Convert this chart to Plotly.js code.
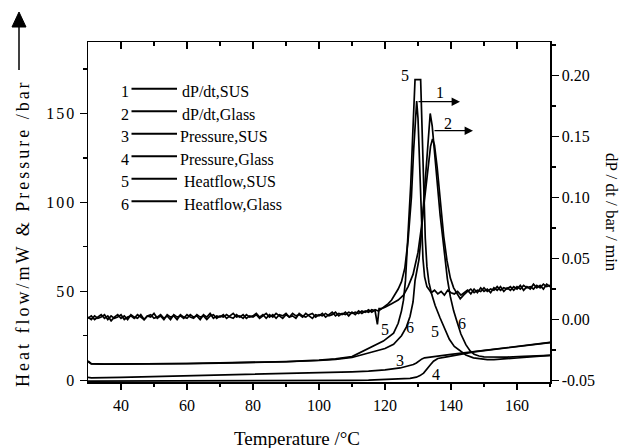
<!DOCTYPE html>
<html>
<head>
<meta charset="utf-8">
<script src="https://cdn.plot.ly/plotly-3.0.1.min.js"></script>
<style>
  html, body { margin: 0; padding: 0; background: #fff; }
  #chart { width: 623px; height: 448px; }
  .ytick text { letter-spacing: 2px; }
  g.annotation[data-index="0"] text { letter-spacing: 3px; }
</style>
</head>
<body>
<div id="chart"></div>
<script>
// ---------------- DATA ----------------
// Series 1: dP/dt, SUS (right axis, bar/min)
const tDpdtSus = [
  30,31,32,33,34,35,36,37,38,39,
  40,41,42,43,44,45,46,47,48,49,
  50,51,52,53,54,55,56,57,58,59,
  60,61,62,63,64,65,66,67,68,69,
  70,71,72,73,74,75,76,77,78,79,
  80,81,82,83,84,85,86,87,88,89,
  90,91,92,93,94,95,96,97,98,99,
  100,101,102,103,104,105,106,107,108,109,
  110,111,112,113,114,115,116,117,
  117.7,118.2,119,120,121,122,123,124,125,126,127,128,128.7,129.3,129.6,130,130.5,131,131.5,132,132.7,133.5,134,
  135,136,137,138,139,140,141,142,143,144,
  145,146,147,148,149,150,151,152,153,154,
  155,156,157,158,159,160,161,162,163,164,
  165,166,167,168,169,170,171
];
const dpdtSus = [
  0.001,0.003,0.000,0.002,0.004,0.001,0.003,-0.001,0.002,0.004,
  0.001,0.003,0.000,0.004,0.002,0.001,0.004,0.000,0.003,0.002,
  0.005,0.001,0.003,0.000,0.004,0.002,0.003,0.000,0.004,0.002,
  0.001,0.004,0.002,0.003,0.000,0.004,0.002,0.005,0.001,0.003,
  0.002,0.004,0.001,0.003,0.005,0.002,0.003,0.001,0.004,0.002,
  0.003,0.005,0.002,0.004,0.001,0.004,0.002,0.005,0.003,0.001,
  0.004,0.002,0.005,0.003,0.004,0.002,0.005,0.003,0.001,0.004,
  0.003,0.005,0.002,0.004,0.006,0.003,0.005,0.004,0.006,0.003,
  0.006,0.004,0.007,0.005,0.007,0.006,0.008,0.007,
  -0.004,0.009,0.009,0.011,0.013,0.016,0.020,0.025,0.031,0.042,0.065,0.100,0.140,0.172,0.179,0.165,0.125,0.080,0.050,0.035,0.027,0.024,0.022,
  0.024,0.021,0.023,0.020,0.024,0.022,0.021,0.023,0.020,0.022,
  0.024,0.021,0.025,0.022,0.026,0.023,0.025,0.022,0.026,0.024,
  0.027,0.023,0.026,0.024,0.027,0.025,0.028,0.024,0.027,0.025,
  0.029,0.026,0.028,0.025,0.029,0.027,0.028
];

// Series 2: dP/dt, Glass (right axis, bar/min)
const tDpdtGlass = [
  30,31,32,33,34,35,36,37,38,39,
  40,41,42,43,44,45,46,47,48,49,
  50,51,52,53,54,55,56,57,58,59,
  60,61,62,63,64,65,66,67,68,69,
  70,71,72,73,74,75,76,77,78,79,
  80,81,82,83,84,85,86,87,88,89,
  90,91,92,93,94,95,96,97,98,99,
  100,101,102,103,104,105,106,107,108,109,
  110,111,112,113,114,115,116,117,118,119,
  120,122,124,125.6,127,128.5,130,131,132,133,133.8,134.4,135,135.8,136.8,137.8,138.8,139.8,140.8,141.8,142.8,143.8,144.5,
  145,146,147,148,149,150,151,152,153,154,
  155,156,157,158,159,160,161,162,163,164,
  165,166,167,168,169,170,171
];
const dpdtGlass = [
  0.002,0.000,0.003,0.001,0.002,0.004,0.000,0.003,0.001,0.002,
  0.004,0.000,0.002,0.003,0.001,0.004,0.002,0.000,0.003,0.004,
  0.001,0.002,0.004,0.001,0.003,0.000,0.004,0.002,0.003,0.001,
  0.004,0.002,0.001,0.004,0.002,0.003,0.000,0.003,0.004,0.001,
  0.003,0.002,0.004,0.002,0.001,0.004,0.002,0.004,0.001,0.003,
  0.002,0.004,0.001,0.003,0.005,0.002,0.004,0.001,0.004,0.003,
  0.005,0.002,0.003,0.001,0.005,0.003,0.002,0.004,0.005,0.002,
  0.004,0.003,0.005,0.003,0.004,0.006,0.003,0.005,0.004,0.006,
  0.005,0.006,0.005,0.007,0.006,0.008,0.006,0.008,0.007,0.009,
  0.010,0.013,0.016,0.020,0.027,0.037,0.055,0.075,0.100,0.125,0.142,0.148,0.143,0.125,0.095,0.068,0.048,0.034,0.026,0.021,0.017,0.020,0.022,
  0.023,0.025,0.022,0.024,0.023,0.026,0.023,0.025,0.024,0.027,
  0.024,0.026,0.025,0.027,0.024,0.027,0.025,0.028,0.026,0.027,
  0.025,0.028,0.026,0.029,0.027,0.028,0.026
];

// Series 3: Pressure, SUS (left axis, bar)
const tPresSus = [30,31,40,50,60,70,80,90,100,110,115,120,124.6,127,128.6,129.5,130.3,131.2,132,133.7,136,140,145,150,155,160,165,171];
const presSus  = [1.6,1.3,1.6,2.0,2.4,2.8,3.2,3.6,4.1,4.7,5.1,5.8,6.9,7.8,8.8,9.7,10.9,12.0,12.6,13.2,13.6,14.5,15.6,16.7,17.9,19.0,20.1,21.5];

// Series 4: Pressure, Glass (left axis, bar)
const tPresGlass = [30,40,60,80,100,110,115,120,124,127.6,129.5,130.6,131.7,132.7,133.7,134.7,136,138.7,140.8,142.8,145,147,150,155,160,165,171];
const presGlass  = [-0.5,-0.5,-0.4,-0.3,-0.2,-0.1,0.0,0.3,0.6,1.0,1.7,2.6,4.0,6.0,8.6,10.7,12.2,13.1,13.9,14.5,15.3,15.9,16.6,17.8,18.9,20.0,21.4];

// Series 5: Heatflow, SUS (left axis, mW)
const tHeatSus = [30,30.5,31,35,40,50,60,70,80,90,100,105,110,112.5,116,119.5,122.6,124,125,125.6,126.2,126.6,127.2,127.8,128.4,128.9,129.1,130.8,131.2,131.7,132.2,132.7,133.3,134.2,135.2,136.7,138,139.5,141,142.8,144.5,146.8,149,151,153,156,160,165,171];
const heatSus  = [10.8,9.8,9.3,9.1,9.1,9.2,9.4,9.7,10.0,10.5,11.3,12.0,13.3,15.5,18.5,22,26.5,32,39,45,56,68,88,110,138,162,169,169,140,108,80,64,55,48,42,35,29,23,19,16.5,14.2,12.6,11.9,11.6,11.6,11.9,12.5,13.3,14.1];

// Series 6: Heatflow, Glass (left axis, mW)
const tHeatGlass = [30,30.5,31,35,40,50,60,70,80,90,100,105,110,112.5,116,120,122.6,125,126.5,127.6,128.5,129.1,129.7,130.3,131,131.8,132.5,133.1,133.7,134.3,135,135.8,136.7,137.5,138.2,138.9,139.8,140.8,141.8,143,144.5,145.8,147,148.5,150,153,157,162,166,171];
const heatGlass  = [10.4,9.6,9.2,9.0,9.0,9.1,9.3,9.6,9.9,10.4,11.1,11.7,12.8,14.0,15.5,17.8,20.2,25,30,36,44,56,62,68,82,102,123,140,150,143,128,110,93,80,68,57,47,39,33,26,20,16.5,14.6,13.6,13.1,12.9,13.0,13.4,13.7,14.1];

// Legend entries and tick labels
const legendNums   = ['1','2','3','4','5','6'];
const legendLabels = ['dP/dt,SUS','dP/dt,Glass','Pressure,SUS','Pressure,Glass','Heatflow,SUS','Heatflow,Glass'];
const xTickVals  = [40,60,80,100,120,140,160];
const yTickVals  = [0,50,100,150];
const y2TickVals = [-0.05,0.00,0.05,0.10,0.15,0.20];
const y2TickText = ['-0.05','0.00','0.05','0.10','0.15','0.20'];

// ---------------- CHART ----------------
const FONT = 'Liberation Serif';
const LW = 1.7;
function tr(x, y, name, yax) {
  return { x: x, y: y, name: name, type: 'scatter', mode: 'lines', yaxis: yax,
           line: { color: '#000', width: LW }, showlegend: false, hoverinfo: 'skip' };
}
const traces = [
  tr(tPresGlass, presGlass, legendLabels[3], 'y'),
  tr(tPresSus, presSus, legendLabels[2], 'y'),
  tr(tHeatSus, heatSus, legendLabels[4], 'y'),
  tr(tHeatGlass, heatGlass, legendLabels[5], 'y'),
  tr(tDpdtSus, dpdtSus, legendLabels[0], 'y2'),
  tr(tDpdtGlass, dpdtGlass, legendLabels[1], 'y2'),
  // invisible trace to activate the top frame axis
  { x: [30, 170], y: [0, 0], xaxis: 'x2', yaxis: 'y', mode: 'none', type: 'scatter', showlegend: false, hoverinfo: 'skip' }
];

const L = 88, R = 73, T = 42, B = 66, W = 623, H = 448;
const pw = W - L - R, ph = H - T - B;
const px = v => (v - L) / pw;
const py = v => (H - B - v) / ph;

const annotations = [];
// 0: left title (shifted down, letter spaced)
annotations.push({ text: 'Heat flow/mW & Pressure /bar', xref: 'paper', yref: 'paper',
  x: px(23), y: py(233), textangle: -90, showarrow: false, xanchor: 'center', yanchor: 'middle',
  font: { family: FONT, size: 18, color: '#000' } });
// x title
annotations.push({ text: 'Temperature /°C', xref: 'paper', yref: 'paper',
  x: px(297), y: py(438), showarrow: false, xanchor: 'center', yanchor: 'middle',
  font: { family: FONT, size: 19, color: '#000' } });
// right title
annotations.push({ text: 'dP / dt / bar / min', xref: 'paper', yref: 'paper',
  x: px(612), y: py(212), textangle: 90, showarrow: false, xanchor: 'center', yanchor: 'middle',
  font: { family: FONT, size: 17, color: '#000' } });

// legend (number, line, label)
const legendY = [91.7, 114.2, 136.7, 159.2, 181.7, 204.2];
const legendTextX = [179.5, 179.5, 178, 178, 182, 182];
const shapes = [];
for (let i = 0; i < legendNums.length; i++) {
  annotations.push({ text: legendNums[i], xref: 'paper', yref: 'paper', x: px(125), y: py(legendY[i]),
    showarrow: false, xanchor: 'center', yanchor: 'middle', font: { family: FONT, size: 16, color: '#000' } });
  annotations.push({ text: legendLabels[i], xref: 'paper', yref: 'paper', x: px(legendTextX[i]), y: py(legendY[i]),
    showarrow: false, xanchor: 'left', yanchor: 'middle', font: { family: FONT, size: 16, color: '#000' } });
  shapes.push({ type: 'line', xref: 'paper', yref: 'paper', x0: px(131.5), x1: px(177), y0: py(legendY[i] - 3), y1: py(legendY[i] - 3),
    line: { color: '#000', width: 2 } });
}

// curve labels
const curveLabels = [
  ['5', 405, 75], ['1', 440, 92], ['2', 448, 123],
  ['5', 385, 329], ['6', 410, 327], ['5', 435, 331], ['6', 462, 323],
  ['3', 400, 360], ['4', 436, 374]
];
curveLabels.forEach(c => annotations.push({ text: c[0], xref: 'paper', yref: 'paper', x: px(c[1]), y: py(c[2]),
  showarrow: false, xanchor: 'center', yanchor: 'middle', font: { family: FONT, size: 16, color: '#000' } }));

// arrows for curves 1 and 2 (pointing to right axis)
annotations.push({ text: '', xref: 'paper', yref: 'paper', x: px(460), y: py(101.7), ax: -43, ay: 0,
  showarrow: true, arrowhead: 2, arrowsize: 1.4, arrowwidth: 1.2, arrowcolor: '#000' });
annotations.push({ text: '', xref: 'paper', yref: 'paper', x: px(473), y: py(130.7), ax: -40, ay: 0,
  showarrow: true, arrowhead: 2, arrowsize: 1.4, arrowwidth: 1.2, arrowcolor: '#000' });

// big arrow above left title
shapes.push({ type: 'line', xref: 'paper', yref: 'paper', x0: px(19), x1: px(19), y0: py(70), y1: py(24),
  line: { color: '#000', width: 1.5 } });
shapes.push({ type: 'path', xref: 'paper', yref: 'paper',
  path: `M ${px(12)} ${py(27)} L ${px(26)} ${py(27)} L ${px(19)} ${py(12)} Z`,
  fillcolor: '#000', line: { color: '#000', width: 1 } });

const axBase = { showgrid: false, zeroline: false, showline: true, linecolor: '#000', linewidth: 1.5,
  tickcolor: '#000', tickwidth: 1.3, tickfont: { family: FONT, size: 16, color: '#000' } };

const layout = {
  width: W, height: H,
  margin: { l: L, r: R, t: T, b: B, pad: 0 },
  paper_bgcolor: '#fff', plot_bgcolor: '#fff',
  showlegend: false,
  font: { family: FONT, color: '#000' },
  xaxis: Object.assign({}, axBase, {
    range: [30, 170], tickmode: 'array', tickvals: xTickVals, ticks: 'outside', ticklen: 6,
    ticklabelstandoff: 2,
    minor: { tickvals: [50, 70, 90, 110, 130, 150, 170], ticks: 'outside', ticklen: 3, tickcolor: '#000', tickwidth: 1.2, showgrid: false }
  }),
  xaxis2: Object.assign({}, axBase, {
    overlaying: 'x', side: 'top', matches: 'x', range: [30, 170], showticklabels: false,
    tickmode: 'array', tickvals: xTickVals, ticks: 'inside', ticklen: 7,
    minor: { tickvals: [50, 70, 90, 110, 130, 150], ticks: 'inside', ticklen: 4, tickcolor: '#000', tickwidth: 1.2, showgrid: false }
  }),
  yaxis: Object.assign({}, axBase, {
    range: [-1.0, 190.2], tickmode: 'array', tickvals: yTickVals, ticks: 'outside', ticklen: 7,
    minor: { tickvals: [25, 75, 125, 175], ticks: 'outside', ticklen: 4, tickcolor: '#000', tickwidth: 1.2, showgrid: false }
  }),
  yaxis2: Object.assign({}, axBase, {
    overlaying: 'y', side: 'right', range: [-0.0512, 0.2275], tickmode: 'array', tickvals: y2TickVals, ticktext: y2TickText,
    ticks: 'outside', ticklen: 7,
    minor: { tickvals: [-0.025, 0.025, 0.075, 0.125, 0.175, 0.225], ticks: 'outside', ticklen: 4, tickcolor: '#000', tickwidth: 1.2, showgrid: false }
  }),
  annotations: annotations,
  shapes: shapes
};

Plotly.newPlot('chart', traces, layout, { staticPlot: true, displayModeBar: false });
</script>
</body>
</html>
